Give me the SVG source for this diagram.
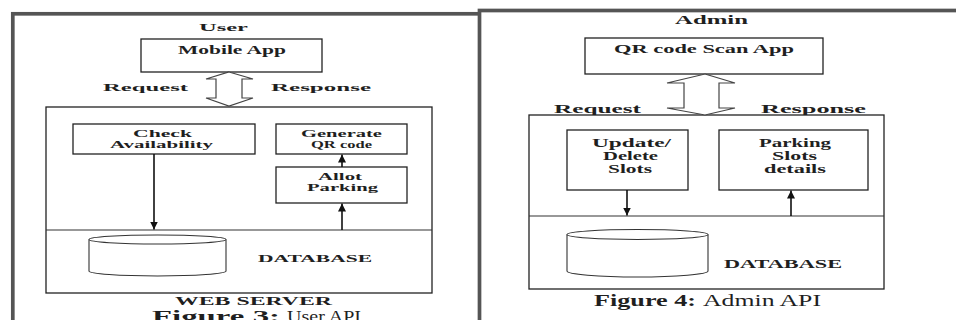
<svg xmlns="http://www.w3.org/2000/svg" width="956" height="320" viewBox="0 0 956 320">
<style>
.frame{fill:#fff;stroke:#555;stroke-width:3.7}
.box{fill:#fff;stroke:#222;stroke-width:1.3}
.ln{fill:none;stroke:#333;stroke-width:1.1}
.dbl{fill:#fff;stroke:#444;stroke-width:1.2;stroke-linejoin:miter}
.cyl{fill:#fff;stroke:#333;stroke-width:1.1}
.arr{fill:none;stroke:#111;stroke-width:1.6;marker-end:url(#ah)}
text{font-family:"Liberation Serif","Times New Roman",serif;font-weight:bold;fill:#1f1f1f}
.s10{font-size:10.5px}.s11{font-size:11px}.s12{font-size:12px}.s13{font-size:12.5px}.s17{font-size:16.5px}
.reg{font-weight:normal}
</style>
<defs>
<marker id="ah" viewBox="0 0 10 10" refX="10" refY="5" markerWidth="5" markerHeight="5" orient="auto" markerUnits="strokeWidth">
<path d="M0,0 L10,5 L0,10 z" fill="#111"/>
</marker>
</defs>
<rect x="0" y="0" width="956" height="320" fill="#fff"/>

<g id="panel-user">
<rect class="frame" x="12.8" y="13.8" width="470" height="340"/>
<text class="s11" x="199" y="31" textLength="49" lengthAdjust="spacingAndGlyphs">User</text>
<text class="s11" x="103" y="91" textLength="85" lengthAdjust="spacingAndGlyphs">Request</text>
<text class="s11" x="271" y="91" textLength="100" lengthAdjust="spacingAndGlyphs">Response</text>
</g>
<g id="mobile-app">
<rect class="box" x="141" y="39" width="181" height="33"/>
<text class="s12" x="178" y="54" textLength="108" lengthAdjust="spacingAndGlyphs">Mobile App</text>
</g>
<g id="web-server">
<rect class="box" x="46" y="107" width="386" height="186"/>
<line class="ln" x1="46" y1="230" x2="432" y2="230"/>
<text class="s10" x="258" y="262" textLength="114" lengthAdjust="spacingAndGlyphs">DATABASE</text>
<text class="s12" x="175" y="305" textLength="157" lengthAdjust="spacingAndGlyphs">WEB SERVER</text>
</g>
<g id="check-availability">
<rect class="box" x="73" y="124" width="182" height="30"/>
<text class="s10" x="133" y="137" textLength="59" lengthAdjust="spacingAndGlyphs">Check</text>
<text class="s10" x="110" y="148" textLength="103" lengthAdjust="spacingAndGlyphs">Availability</text>
</g>
<g id="generate-qr">
<rect class="box" x="276" y="124" width="131" height="30"/>
<text class="s10" x="301" y="137" textLength="81" lengthAdjust="spacingAndGlyphs">Generate</text>
<text class="s10" x="311" y="148" textLength="61" lengthAdjust="spacingAndGlyphs">QR code</text>
</g>
<g id="allot-parking">
<rect class="box" x="276" y="167" width="131" height="36"/>
<text class="s10" x="318" y="180" textLength="44" lengthAdjust="spacingAndGlyphs">Allot</text>
<text class="s10" x="307" y="190.5" textLength="71" lengthAdjust="spacingAndGlyphs">Parking</text>
</g>
<g id="database-user">
<path class="cyl" d="M89,239.5 V271 A68.5,5 0 0 0 226,271 V239.5"/>
<ellipse class="cyl" cx="157.5" cy="239.5" rx="68.5" ry="4.5"/>
</g>
<g id="caption-3">
<text class="s17" x="152" y="321.5" textLength="128" lengthAdjust="spacingAndGlyphs">Figure 3:</text>
<text class="s17 reg" x="287" y="321.5" textLength="74" lengthAdjust="spacingAndGlyphs">User API</text>
</g>

<g id="panel-admin">
<rect class="frame" x="479.5" y="10.5" width="500" height="340" stroke-width="3.5"/>
<text class="s13" x="675" y="24" textLength="73" lengthAdjust="spacingAndGlyphs">Admin</text>
<text class="s13" x="554" y="113" textLength="87" lengthAdjust="spacingAndGlyphs">Request</text>
<text class="s13" x="761" y="113" textLength="105" lengthAdjust="spacingAndGlyphs">Response</text>
</g>
<g id="qr-scan-app">
<rect class="box" x="585" y="38" width="238" height="36"/>
<text class="s13" x="614" y="53" textLength="180" lengthAdjust="spacingAndGlyphs">QR code Scan App</text>
</g>
<g id="admin-server">
<rect class="box" x="529" y="115" width="355" height="174"/>
<line class="ln" x1="529" y1="216" x2="884" y2="216"/>
<text class="s12" x="724" y="268" textLength="118" lengthAdjust="spacingAndGlyphs">DATABASE</text>
</g>
<g id="update-delete">
<rect class="box" x="567" y="130" width="121" height="60"/>
<text class="s13" x="592" y="147" textLength="79" lengthAdjust="spacingAndGlyphs">Update/</text>
<text class="s13" x="603" y="160" textLength="55" lengthAdjust="spacingAndGlyphs">Delete</text>
<text class="s13" x="608" y="173" textLength="44" lengthAdjust="spacingAndGlyphs">Slots</text>
</g>
<g id="parking-details">
<rect class="box" x="719" y="130" width="149" height="60"/>
<text class="s13" x="759" y="147" textLength="72" lengthAdjust="spacingAndGlyphs">Parking</text>
<text class="s13" x="772" y="160" textLength="45" lengthAdjust="spacingAndGlyphs">Slots</text>
<text class="s13" x="764" y="173" textLength="62" lengthAdjust="spacingAndGlyphs">details</text>
</g>
<g id="database-admin">
<path class="cyl" d="M567,234.5 V271 A70.5,6 0 0 0 708,271 V234.5"/>
<ellipse class="cyl" cx="637.5" cy="234.5" rx="70.5" ry="5"/>
</g>
<g id="caption-4">
<text class="s17" x="594" y="306" textLength="102" lengthAdjust="spacingAndGlyphs">Figure 4:</text>
<text class="s17 reg" x="703" y="306" textLength="118" lengthAdjust="spacingAndGlyphs">Admin API</text>
</g>

<g id="connectors">
<polygon class="dbl" points="229,72 253,79 242,79 242,98 253,98 229,106 206,98 216,98 216,79 206,79"/>
<polygon class="dbl" points="705,74 735,83 719,83 719,108 735,108 705,115 667,108 684,108 684,83 667,83"/>
<line class="arr" x1="154" y1="154" x2="154" y2="229.5"/>
<line class="arr" x1="342" y1="167" x2="342" y2="154.5"/>
<line class="arr" x1="342" y1="230" x2="342" y2="203.5"/>
<line class="arr" x1="627" y1="190" x2="627" y2="215.5"/>
<line class="arr" x1="791" y1="216" x2="791" y2="190.5"/>
</g>
</svg>
